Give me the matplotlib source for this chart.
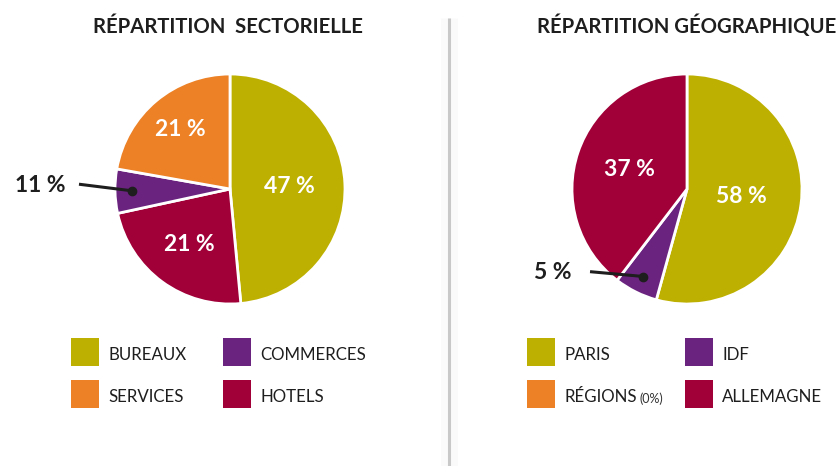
import matplotlib
matplotlib.use("Agg")
import numpy as np
import matplotlib.pyplot as plt
from matplotlib.patches import Rectangle

W, H = 839, 466
plt.rcParams['font.family'] = ['Lato', 'DejaVu Sans']

# clockwise from the top, shares
sect_names = ["BUREAUX", "HOTELS", "COMMERCES", "SERVICES"]
sect_shares = [48.5, 23.1, 6.2, 22.2]
sect_labels = ["47 %", "21 %", "11 %", "21 %"]

geo_names = ["PARIS", "IDF", "RÉGIONS", "ALLEMAGNE"]
geo_shares = [54.3, 6.1, 0.0, 39.6]
geo_labels = ["58 %", "5 %", "0 %", "37 %"]

sect_legend = [["BUREAUX", "COMMERCES"], ["SERVICES", "HOTELS"]]
geo_legend = [["PARIS", "IDF"], ["RÉGIONS", "ALLEMAGNE"]]

OLIVE, PURPLE, ORANGE, CRIMSON = "#bdb000", "#6b2380", "#ec8126", "#a00037"
colors = {"BUREAUX": OLIVE, "PARIS": OLIVE,
          "COMMERCES": PURPLE, "IDF": PURPLE,
          "SERVICES": ORANGE, "RÉGIONS": ORANGE,
          "HOTELS": CRIMSON, "ALLEMAGNE": CRIMSON}
DARK = "#1e1e1e"

fig = plt.figure(figsize=(W / 100, H / 100), dpi=100)
fig.patch.set_facecolor("white")

# pixel-space overlay for titles, divider and legends
ov = fig.add_axes([0, 0, 1, 1])
ov.set_xlim(0, W)
ov.set_ylim(H, 0)
ov.axis("off")

ov.plot([449, 449], [18, H], color="#fafafa", lw=12, solid_capstyle="butt")
ov.plot([449, 449], [18, H], color="#c8c8c8", lw=2.2, solid_capstyle="butt")

ov.text(228, 27, "RÉPARTITION  SECTORIELLE", ha="center", va="center",
        fontsize=14.6, fontweight="bold", color=DARK)
ov.text(687, 26, "RÉPARTITION GÉOGRAPHIQUE", ha="center", va="center",
        fontsize=14.6, fontweight="bold", color=DARK)


def legend(x0, x1, grid):
    for row, y in zip(grid, [352, 394]):
        for name, x in zip(row, [x0, x1]):
            ov.add_patch(Rectangle((x, y - 14), 28, 28, color=colors[name], lw=0))
            t = ov.text(x + 37, y + 3, name, ha="left", va="center",
                        fontsize=12.2, color=DARK)
            if name == "RÉGIONS":
                ov.annotate("(0%)", xy=(1, 0.5), xycoords=t, xytext=(2, -1),
                            textcoords="offset points", ha="left", va="center",
                            fontsize=9, color="#333333")


legend(71, 223, sect_legend)
legend(527, 685, geo_legend)


def pie(cx, cy, r, names, shares, labels, inside, callout):
    ax = fig.add_axes([(cx - r) / W, (H - cy - r) / H, 2 * r / W, 2 * r / H])
    keep = [i for i, s in enumerate(shares) if s > 0]
    wedges, _ = ax.pie([shares[i] for i in keep],
                       colors=[colors[names[i]] for i in keep],
                       startangle=90, counterclock=False,
                       wedgeprops=dict(edgecolor="white", linewidth=2))
    ax.set_xlim(-1, 1)
    ax.set_ylim(-1, 1)
    for w, i in zip(wedges, keep):
        mid = np.radians((w.theta1 + w.theta2) / 2)
        if i == callout[0]:
            dx, dy = 0.85 * np.cos(mid), 0.85 * np.sin(mid)
            lx, ly = callout[1]
            ax.plot([lx, dx], [ly, dy], color=DARK, lw=2.2, clip_on=False)
            ax.plot(dx, dy, "o", color=DARK, ms=6, clip_on=False)
            ax.text(callout[2][0], callout[2][1], labels[i], ha="right",
                    va="center", fontsize=16.5, fontweight="bold", color=DARK,
                    clip_on=False)
        else:
            d = inside[i]
            ax.text(d * np.cos(mid), d * np.sin(mid), labels[i], ha="center",
                    va="center", fontsize=16.5, fontweight="bold", color="white")


pie(230, 189, 115, sect_names, sect_shares, sect_labels,
    [0.52, 0.6, 0.6, 0.67], (2, (-1.30, 0.04), (-1.43, 0.03)))
pie(687, 189, 115, geo_names, geo_shares, geo_labels,
    [0.48, 0.6, 0.6, 0.53], (1, (-0.83, -0.72), (-1.0, -0.73)))

fig.savefig("out.png", dpi=100, facecolor="white")
